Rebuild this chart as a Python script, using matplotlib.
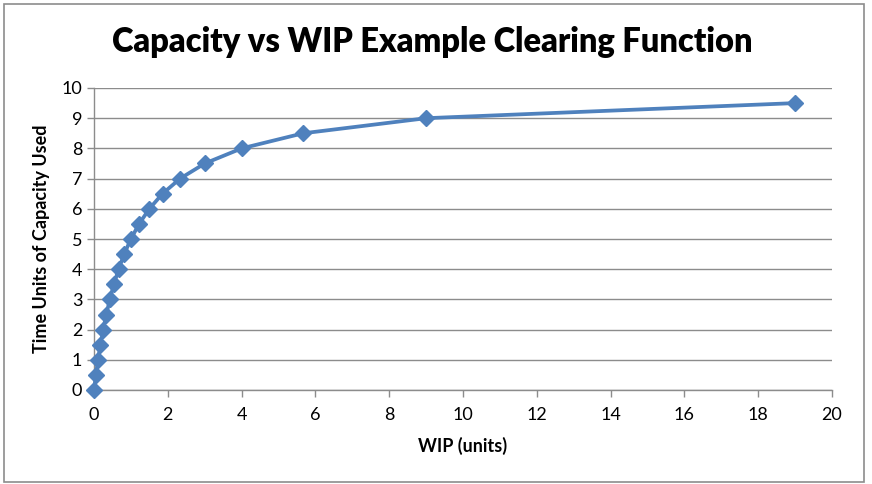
import matplotlib
matplotlib.use("Agg")
import matplotlib.pyplot as plt
from matplotlib.patches import Rectangle

# WIP (units) vs time units of capacity used
wip = [0, 0.053, 0.111, 0.176, 0.25, 0.333, 0.429, 0.538, 0.667, 0.818,
       1.0, 1.222, 1.5, 1.857, 2.333, 3.0, 4.0, 5.667, 9.0, 19.0]
capacity = [0, 0.5, 1.0, 1.5, 2.0, 2.5, 3.0, 3.5, 4.0, 4.5,
            5.0, 5.5, 6.0, 6.5, 7.0, 7.5, 8.0, 8.5, 9.0, 9.5]
x_ticks = list(range(0, 21, 2))
y_ticks = list(range(0, 11))

plt.rcParams['font.family'] = ['Lato', 'DejaVu Sans']

fig = plt.figure(figsize=(8.72, 4.84), dpi=100)
fig.patch.set_facecolor('white')
fig.patches.append(Rectangle((4 / 872, 2 / 484), 860 / 872, 478 / 484,
                             transform=fig.transFigure, fill=False,
                             edgecolor='#8c8c8c', linewidth=1.2))

ax = fig.add_axes([94 / 872, 94 / 484, 738 / 872, 302 / 484])
ax.plot(wip, capacity, color='#4F81BD', linewidth=2.7, marker='D',
        markersize=8, markerfacecolor='#4F81BD', markeredgecolor='#4F81BD',
        clip_on=False, zorder=3)

ax.set_xlim(0, 20)
ax.set_ylim(0, 10)
ax.set_xticks(x_ticks)
ax.set_yticks(y_ticks)
ax.grid(axis='y', color='#8c8c8c', linewidth=1.0)
ax.set_axisbelow(True)
for side in ['top', 'right']:
    ax.spines[side].set_visible(False)
for side in ['left', 'bottom']:
    ax.spines[side].set_color('#8c8c8c')
    ax.spines[side].set_linewidth(1.0)
ax.tick_params(axis='both', colors='#8c8c8c', labelcolor='black',
               labelsize=13, length=5, width=1.0)
ax.tick_params(axis='x', pad=7)

ax.set_xlabel('WIP (units)', fontsize=13, fontweight='bold', labelpad=10)
ax.set_ylabel('Time Units of Capacity Used', fontsize=13, fontweight='bold', labelpad=8)
fig.text(432 / 872, 1 - 42 / 484, 'Capacity vs WIP Example Clearing Function',
         ha='center', va='center', fontsize=23.5, fontweight='heavy')

fig.savefig('out.png', dpi=100)
